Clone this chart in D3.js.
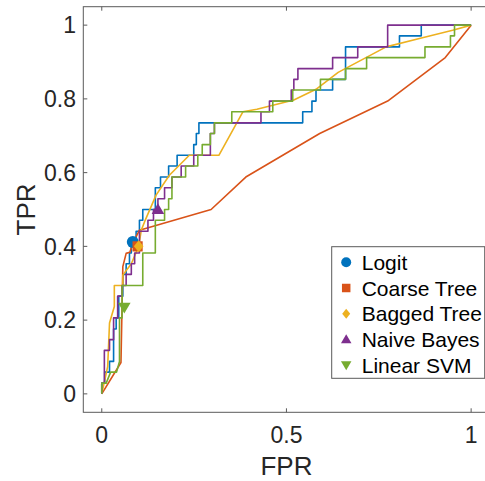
<!DOCTYPE html>
<html>
<head>
<meta charset="utf-8" />
<title>roc curves</title>
<style>
html, body {
	margin:0;
	padding:0;
	background:#ffffff;
}
svg {
	font-family: 'Liberation Sans', Arial, Helvetica, sans-serif;
}
</style>
</head>
<body>

<script src="https://cdn.jsdelivr.net/npm/d3@7/dist/d3.min.js"></script>

<script>

//=======================================
// data: [fpr, tpr]
//=======================================

let xTicks = [0, 0.5, 1],
		yTicks = [0, 0.2, 0.4, 0.6, 0.8, 1];

let logit = [
	[0,0],[0,0.029],[0.008,0.029],[0.008,0.059],[0.021,0.059],[0.021,0.088],[0.032,0.088],[0.032,0.176],
	[0.039,0.176],[0.039,0.206],[0.046,0.206],[0.046,0.265],[0.057,0.265],[0.057,0.324],[0.066,0.324],
	[0.066,0.353],[0.075,0.353],[0.075,0.382],[0.08,0.382],[0.08,0.412],[0.093,0.412],[0.093,0.441],
	[0.102,0.441],[0.102,0.471],[0.111,0.471],[0.111,0.5],[0.145,0.5],[0.145,0.559],[0.159,0.559],
	[0.159,0.588],[0.181,0.588],[0.181,0.618],[0.204,0.618],[0.204,0.647],[0.249,0.647],[0.249,0.676],
	[0.256,0.676],[0.256,0.706],[0.263,0.706],[0.263,0.735],[0.544,0.735],[0.544,0.765],[0.569,0.765],
	[0.569,0.794],[0.58,0.794],[0.58,0.824],[0.625,0.824],[0.625,0.853],[0.66,0.853],[0.66,0.941],
	[0.806,0.941],[0.806,0.971],[0.865,0.971],[0.865,1],[1,1]
];

let coarseTree = [
	[0,0],[0.052,0.085],[0.057,0.345],[0.066,0.381],[0.076,0.384],[0.084,0.408],[0.102,0.444],
	[0.296,0.5],[0.39,0.588],[0.59,0.706],[0.774,0.794],[0.93,0.912],[1,1]
];

let baggedTree = [
	[0,0],[0.016,0.074],[0.021,0.192],[0.034,0.237],[0.034,0.294],[0.057,0.294],[0.057,0.322],
	[0.08,0.353],[0.1,0.4],[0.107,0.444],[0.116,0.467],[0.147,0.539],[0.183,0.593],[0.237,0.647],
	[0.317,0.647],[0.382,0.765],[0.42,0.772],[0.52,0.797],[0.58,0.826],[0.64,0.872],[0.77,0.941],
	[0.86,0.964],[0.95,0.986],[1,1]
];

let naiveBayes = [
	[0,0],[0,0.029],[0.007,0.029],[0.007,0.118],[0.021,0.118],[0.021,0.147],[0.032,0.147],[0.032,0.206],
	[0.043,0.206],[0.043,0.265],[0.055,0.265],[0.055,0.294],[0.066,0.294],[0.066,0.324],[0.08,0.324],
	[0.08,0.353],[0.089,0.353],[0.089,0.382],[0.102,0.382],[0.102,0.441],[0.125,0.441],[0.125,0.471],
	[0.14,0.471],[0.14,0.5],[0.152,0.5],[0.152,0.529],[0.17,0.529],[0.17,0.559],[0.19,0.559],
	[0.19,0.588],[0.215,0.588],[0.215,0.618],[0.249,0.618],[0.249,0.647],[0.294,0.647],[0.294,0.706],
	[0.305,0.706],[0.305,0.735],[0.431,0.735],[0.431,0.765],[0.454,0.765],[0.454,0.794],[0.513,0.794],
	[0.513,0.824],[0.52,0.824],[0.52,0.853],[0.531,0.853],[0.531,0.882],[0.625,0.882],[0.625,0.912],
	[0.693,0.912],[0.693,0.941],[0.774,0.941],[0.774,1],[1,1]
];

let linearSvm = [
	[0,0],[0,0.029],[0.012,0.029],[0.024,0.059],[0.04,0.059],[0.048,0.088],[0.048,0.206],[0.055,0.206],
	[0.055,0.294],[0.111,0.294],[0.111,0.382],[0.145,0.382],[0.145,0.471],[0.17,0.471],[0.17,0.5],
	[0.181,0.5],[0.181,0.529],[0.19,0.529],[0.19,0.588],[0.227,0.588],[0.227,0.618],[0.26,0.618],
	[0.26,0.647],[0.272,0.647],[0.272,0.676],[0.294,0.676],[0.294,0.706],[0.305,0.706],[0.305,0.735],
	[0.352,0.735],[0.352,0.765],[0.463,0.765],[0.463,0.794],[0.517,0.794],[0.517,0.824],[0.592,0.824],
	[0.592,0.853],[0.66,0.853],[0.66,0.882],[0.717,0.882],[0.717,0.912],[0.875,0.912],[0.875,0.941],
	[0.944,0.941],[0.944,0.971],[0.955,0.971],[0.955,1],[1,1]
];

// operating points
let names   = ['Logit','Coarse Tree','Bagged Tree','Naive Bayes','Linear SVM'],
		curves  = [logit, coarseTree, baggedTree, naiveBayes, linearSvm],
		opFpr   = [0.084, 0.097, 0.1, 0.152, 0.061],
		opTpr   = [0.412, 0.4, 0.4, 0.5, 0.235],
		markers = ['circle','square','diamond','up','down'],
		colors  = ['#0072BD','#D95319','#EDB120','#7E2F8E','#77AC30'];


//=======================================
// chart
//=======================================

let width = 485,
		height = 481,
		box = {left:83.3, right:489.6, top:6.7, bottom:412.3},

		x = d3.scaleLinear().domain([-0.05, 1.05]).range([box.left, box.right]),
		y = d3.scaleLinear().domain([-0.05, 1.05]).range([box.bottom, box.top]);


function markerPath(type, s)	{
	if (type=='circle') return d3.symbol(d3.symbolCircle, Math.PI*s*s)();
	if (type=='square') return 'M'+[-s*0.85,-s*0.85]+'H'+(s*0.85)+'V'+(s*0.85)+'H'+(-s*0.85)+'Z';
	if (type=='diamond') return 'M0,'+(-s)+'L'+(s*0.8)+',0L0,'+s+'L'+(-s*0.8)+',0Z';
	if (type=='up') return 'M0,'+(-s*1.05)+'L'+(s*1.05)+','+(s*0.75)+'L'+(-s*1.05)+','+(s*0.75)+'Z';
	if (type=='down') return 'M0,'+(s*1.05)+'L'+(s*1.05)+','+(-s*0.75)+'L'+(-s*1.05)+','+(-s*0.75)+'Z';
}


let svg = d3.select('body')
	.append('svg')
		.attr('width', width)
		.attr('height', height);

svg.call(sel=>{

	//=====================
	// axes
	//=====================
	sel.append('g').attr('class','axes')
		.call(sel=>{

			sel.append('rect')
				.attr('x', box.left).attr('y', box.top)
				.attr('width', box.right-box.left).attr('height', box.bottom-box.top)
				.attr('fill','#fff')
				.attr('stroke','#5a5a5a')
				.attr('stroke-width',1);

			// ticks inside, bottom + top
			sel.selectAll('.xt').data(xTicks).enter()
				.append('path')
					.attr('class','xt')
					.attr('d', d=>'M'+x(d)+','+box.bottom+'v-4M'+x(d)+','+box.top+'v4')
					.attr('stroke','#5a5a5a');

			sel.selectAll('.yt').data(yTicks).enter()
				.append('path')
					.attr('class','yt')
					.attr('d', d=>'M'+box.left+','+y(d)+'h4')
					.attr('stroke','#5a5a5a');

			sel.selectAll('.xl').data(xTicks).enter()
				.append('text')
					.attr('class','xl')
					.attr('x', d=>x(d))
					.attr('y', 443)
					.attr('text-anchor','middle')
					.attr('font-size',23)
					.attr('fill','#262626')
					.text(d=>d3.format('')(d));

			sel.selectAll('.yl').data(yTicks).enter()
				.append('text')
					.attr('class','yl')
					.attr('x', 76)
					.attr('y', d=>y(d))
					.attr('dy','0.36em')
					.attr('text-anchor','end')
					.attr('font-size',23)
					.attr('fill','#262626')
					.text(d=>d3.format('')(d));

			sel.append('text')
				.attr('x', (x(0)+x(1))/2)
				.attr('y', 475)
				.attr('text-anchor','middle')
				.attr('font-size',26)
				.attr('fill','#262626')
				.text('FPR');

			sel.append('text')
				.attr('transform','translate('+[35, (y(0)+y(1))/2]+') rotate(-90)')
				.attr('text-anchor','middle')
				.attr('font-size',26)
				.attr('fill','#262626')
				.text('TPR');

		});


	//=====================
	// roc lines
	//=====================
	let line = d3.line()
		.x(d=>x(d[0]))
		.y(d=>y(d[1]));

	sel.append('g').attr('class','lines')
		.selectAll('path').data(curves)
			.enter()
				.append('path')
					.attr('d', line)
					.attr('fill','none')
					.attr('stroke',(d,i)=>colors[i])
					.attr('stroke-width',1.6)
					.attr('stroke-linejoin','round');


	//=====================
	// operating points
	//=====================
	sel.append('g').attr('class','points')
		.selectAll('path').data(names)
			.enter()
				.append('path')
					.attr('transform',(d,i)=>'translate('+[x(opFpr[i]), y(opTpr[i])]+')')
					.attr('d',(d,i)=>markerPath(markers[i], 6))
					.attr('fill',(d,i)=>colors[i]);


	//=====================
	// legend
	//=====================
	sel.append('g').attr('class','legend')
		.attr('transform','translate('+[331.7, 246.7]+')')
		.call(sel=>{

			sel.append('rect')
				.attr('width', 153)
				.attr('height', 131.6)
				.attr('fill','#fff')
				.attr('stroke','#5a5a5a')
				.attr('stroke-width',1);

			sel.selectAll('g').data(names)
				.enter()
					.append('g')
						.attr('transform',(d,i)=>'translate('+[14.5, 15.6+i*25.7]+')')
						.call(sel=>{

							sel.append('path')
								.attr('d',(d,i)=>markerPath(markers[i], 5))
								.attr('fill',(d,i)=>colors[i]);

							sel.append('text')
								.attr('x', 15.5)
								.attr('dy','0.36em')
								.attr('font-size',21)
								.attr('fill','#000')
								.text(d=>d);

						});

		});

});

</script>

</body>
</html>
